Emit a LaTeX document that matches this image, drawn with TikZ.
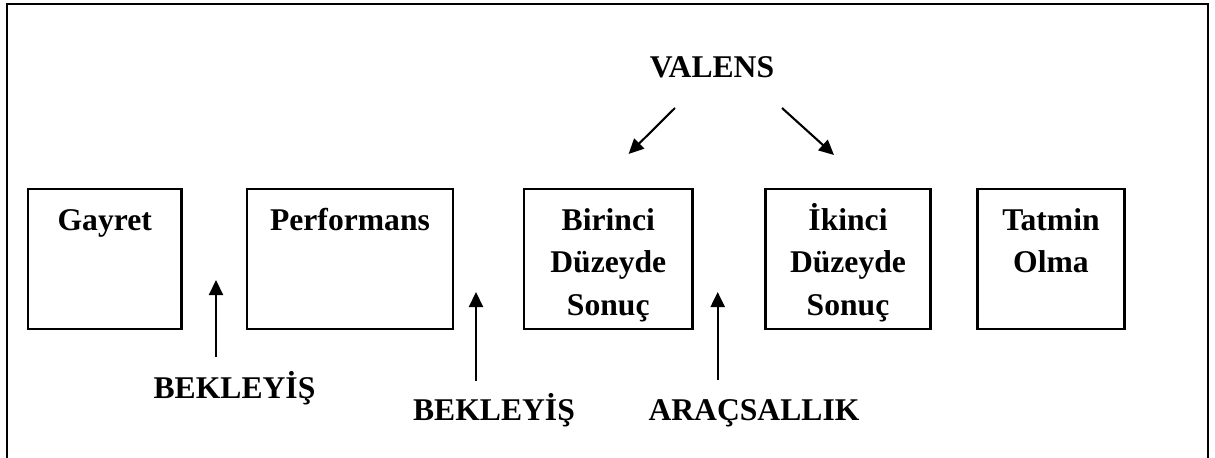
\documentclass[tikz,border=0pt]{standalone}
\usepackage{fontspec}
\setmainfont{Liberation Serif}
\usetikzlibrary{arrows.meta}
\newcommand{\satirlar}[1]{\begin{tabular}[t]{@{}c@{}}#1\end{tabular}}
\tikzset{
  kutu/.style={draw, line width=1.2pt, minimum height=2.8cm, inner sep=0pt},
  yazi/.style={font=\bfseries\fontsize{18}{24.2}\selectfont, inner sep=0pt, anchor=base},
  ok/.style={line width=1.2pt, -{Triangle[length=0.3cm,width=0.28cm]}}
}

\begin{document}
\begin{tikzpicture}[x=0.02cm,y=-0.02cm]
    \useasboundingbox (0,0) rectangle (1215,457);

    % the outer frame
    \draw[line width=1.2pt] (7,470) -- (7,4) -- (1208,4) -- (1208,470);

    % the boxes
    \node[kutu, minimum width=3.07cm] (gay) at (104.75,259) {};
    \node[kutu, minimum width=4.12cm] (perf) at (350,259) {};
    \node[kutu, minimum width=3.37cm] (bir) at (608.3,259) {};
    \node[kutu, minimum width=3.30cm] (iki) at (848,259) {};
    \node[kutu, minimum width=2.94cm] (tat) at (1051,259) {};

    % the box texts
    \node[yazi] (gayT) at ([yshift=-0.85cm]gay.north) {Gayret};
    \node[yazi] (perfT) at ([yshift=-0.85cm]perf.north) {Performans};
    \node[yazi] (birT) at ([yshift=-0.85cm]bir.north) {\satirlar{Birinci\\Düzeyde\\Sonuç}};
    \node[yazi] (ikiT) at ([yshift=-0.85cm]iki.north) {\satirlar{İkinci\\Düzeyde\\Sonuç}};
    \node[yazi] (tatT) at ([yshift=-0.85cm]tat.north) {\satirlar{Tatmin\\Olma}};

    % the labels
    \node[yazi] (valens) at (712,77) {VALENS};
    \node[yazi] (bek1) at (234.5,398) {BEKLEYİŞ};
    \node[yazi] (bek2) at (494,420) {BEKLEYİŞ};
    \node[yazi] (arac) at (754,420) {ARAÇSALLIK};

    % arrow ends
    \coordinate (s1) at (216,357);  \coordinate (t1) at (216,280);
    \coordinate (s2) at (476,381);  \coordinate (t2) at (476,292);
    \coordinate (s3) at (717.7,380); \coordinate (t3) at (717.7,292);
    \coordinate (v1) at (675,108);  \coordinate (w1) at (628.6,154);
    \coordinate (v2) at (782,108);  \coordinate (w2) at (834,155);

    % the arrows
    \draw[ok] (s1) -- (t1);
    \draw[ok] (s2) -- (t2);
    \draw[ok] (s3) -- (t3);
    \draw[ok] (v1) -- (w1);
    \draw[ok] (v2) -- (w2);
\end{tikzpicture}
\end{document}
